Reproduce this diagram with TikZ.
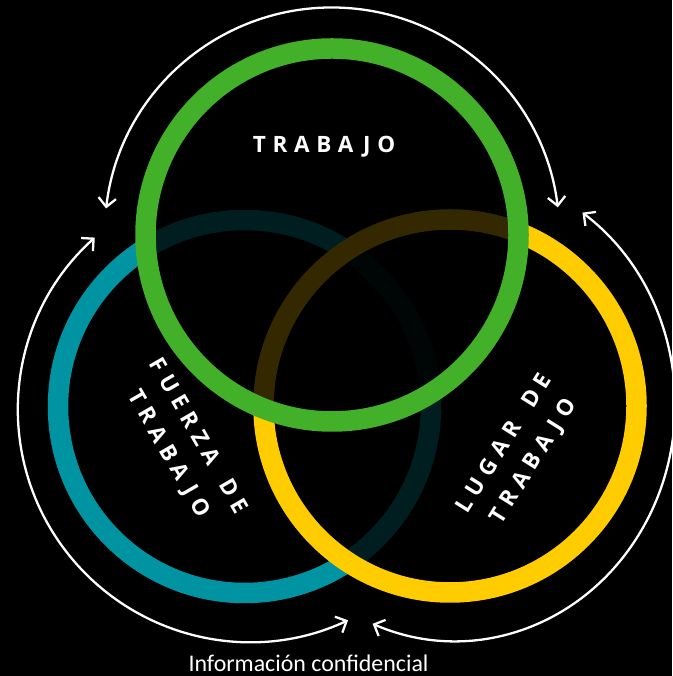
\documentclass[tikz,border=0pt]{standalone}
\usepackage{fontspec}
\usepackage{xcolor}
\usetikzlibrary{arrows.meta}
\setmainfont{Carlito}
\newfontfamily\ringfont[LetterSpace=30]{Open Sans}
\definecolor{ringteal}{RGB}{0,147,162}
\definecolor{ringyellow}{RGB}{255,204,0}
\definecolor{ringgreen}{RGB}{67,176,42}
\newcommand{\wordgap}{\hspace*{0.9em}}

\begin{document}
\begin{tikzpicture}
    \tikzstyle{ring} = [circle, draw=#1, line width=0.41cm, minimum size=7.46cm, inner sep=0pt, fill=black, fill opacity=0.8]
    \tikzstyle{label} = [text=white, font=\ringfont\bfseries\fontsize{12.8}{19.5}\selectfont, align=center]
    \tikzstyle{cycle} = [white, line width=1.3pt, {Straight Barb[length=5pt,width=10pt]}-{Straight Barb[length=5pt,width=10pt]}]

    \fill[black] (0,0) rectangle (13.44,13.52);
    \useasboundingbox (0,0) rectangle (13.44,13.52);

    \node[ring=ringteal] (fuerza) at (4.89,5.39) {};
    \node[ring=ringyellow] (lugar) at (9.00,5.40) {};
    \node[ring=ringgreen] (trabajo) at (6.64,8.82) {};

    \node[label] (trabajoText) at (6.48,10.58) {TRABAJO};
    \node[label, rotate=-60] (fuerzaText) at (3.65,4.61) {FUERZA\wordgap DE\\TRABAJO};
    \node[label, rotate=58] (lugarText) at (10.39,4.46) {LUGAR\wordgap DE\\TRABAJO};

    \draw[cycle] ([shift={(173.3:4.55)}]trabajo.center) arc[start angle=173.3, end angle=7, radius=4.55];
    \draw[cycle] ([shift={(132:4.64)}]5.00,5.32) arc[start angle=132, end angle=295, radius=4.64];
    \draw[cycle] ([shift={(54.6:4.40 and 4.72)}]9.10,5.42) arc[start angle=54.6, end angle=-112, x radius=4.40, y radius=4.72];

    \node[text=white, font=\fontsize{13.6}{16}\selectfont, anchor=base] (note) at (6.17,0.08) {Información confidencial};
\end{tikzpicture}
\end{document}
